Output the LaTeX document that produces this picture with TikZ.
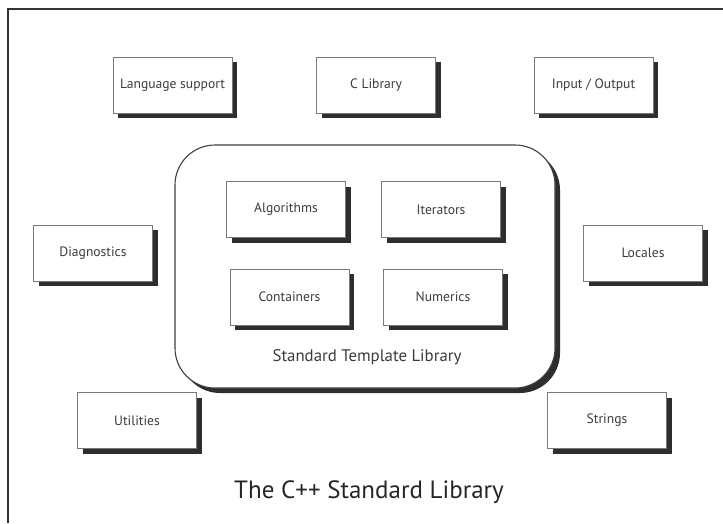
\documentclass[tikz,border=0pt]{standalone}
\usepackage{fontspec}
\setmainfont{PT Sans}
\usetikzlibrary{shadows}
\definecolor{labelgray}{HTML}{3C3C3C}
\definecolor{edgegray}{HTML}{7A7A7A}
\definecolor{shadowgray}{HTML}{2E2E2E}
\tikzset{
  partbox/.style={draw=edgegray, line width=0.9pt, fill=white,
    minimum width=119pt, minimum height=56pt, inner sep=0pt,
    text=labelgray, font=\fontsize{13.6}{16}\selectfont,
    drop shadow={shadow xshift=5pt, shadow yshift=-5pt, fill=shadowgray, opacity=1}},
  stlbox/.style={draw=black!75, line width=1.1pt, fill=white, rounded corners=40pt,
    minimum width=380pt, minimum height=243pt, inner sep=0pt,
    drop shadow={shadow xshift=5pt, shadow yshift=-5pt, fill=shadowgray, opacity=1}},
}
\begin{document}
\begin{tikzpicture}[x=1pt, y=-1pt]
  \useasboundingbox (0,0) rectangle (723,523);
  % page frame, open to the right and bottom
  \draw[line width=2pt, black!80] (8,523) -- (8,9) -- (723,9);

  % top row
  \node[partbox] (lang) at (172.5,85) {Language support};
  \node[partbox] (clib) at (376,85) {C Library};
  \node[partbox] (io)   at (593.5,85) {Input / Output};

  % STL container
  \node[stlbox] (stl) at (365,266.5) {};
  \node[text=labelgray, font=\fontsize{16.8}{20}\selectfont] (stllabel) at (367,357) {Standard Template Library};
  \node[partbox] (alg)  at (286,209.5) {Algorithms};
  \node[partbox] (itr)  at (441,209.5) {Iterators};
  \node[partbox] (cont) at (289.5,297) {Containers};
  \node[partbox] (num)  at (443,297) {Numerics};

  % side boxes
  \node[partbox] (diag) at (93,253) {Diagnostics};
  \node[partbox] (loc)  at (643,253) {Locales};
  \node[partbox] (util) at (137,420.5) {Utilities};
  \node[partbox] (str)  at (607,420.5) {Strings};

  % title
  \node[text=black!85, font=\fontsize{25}{30}\selectfont] (title) at (369,492) {The C++ Standard Library};
\end{tikzpicture}
\end{document}
